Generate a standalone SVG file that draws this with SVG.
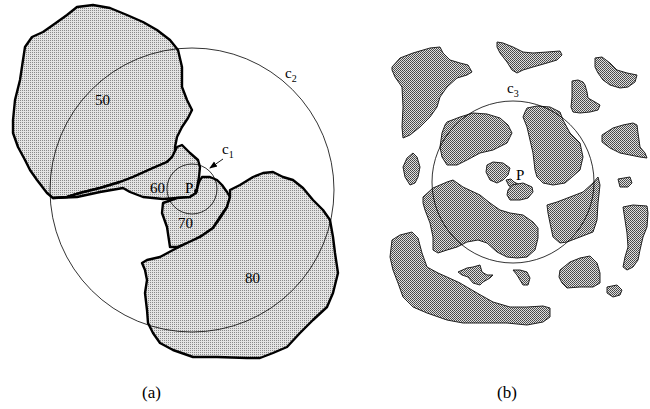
<svg xmlns="http://www.w3.org/2000/svg" width="650" height="409" viewBox="0 0 650 409">
<style>
.ra{fill:url(#stA);stroke:#000;stroke-width:2.4;stroke-linejoin:round}
.rb{fill:url(#stB);stroke:#222;stroke-width:1;stroke-linejoin:round}
.circ{fill:none;stroke:#000;stroke-width:0.8}
.t{font-family:"Liberation Serif","Times New Roman",serif;fill:#000}
.lbl{font-size:15px}
.sub{font-size:10px}
.cap{font-size:17px}
</style>
<defs>
<pattern id="stA" width="2" height="2" patternUnits="userSpaceOnUse">
<rect width="2" height="2" fill="#e4e4e4"/><rect width="1" height="1" fill="#8a8a8a"/>
</pattern>
<pattern id="stB" width="2" height="2" patternUnits="userSpaceOnUse">
<rect width="2" height="2" fill="#e0e0e0"/><rect width="1" height="1" fill="#444"/><rect x="1" y="1" width="1" height="1" fill="#555"/>
</pattern>
<marker id="ah" markerWidth="8" markerHeight="8" refX="7" refY="4" orient="auto" markerUnits="userSpaceOnUse">
<path d="M0,1 L8,4 L0,7 Z" fill="#000"/>
</marker>
</defs>
<rect width="650" height="409" fill="#fff"/>

<g id="panel-a">
<path id="r50" class="ra" d="M25,47 L32,37 L43,32 L53,25 L67,15 L77,7 L93,5 L110,8 L127,15 L143,22 L157,30 L170,40 L178,50 L182,67 L182,87 L187,100 L192,110 L188,118 L182,127 L177,137 L175,147 L175,155 L167,162 L153,168 L133,177 L120,182 L100,188 L80,193 L67,197 L53,198 L47,193 L37,180 L30,170 L25,160 L18,147 L13,133 L13,120 L15,100 L20,80 L23,60 Z"/>
<path id="r60" class="ra" d="M53,198 L67,197 L80,193 L100,188 L120,182 L133,177 L153,168 L167,162 L172,157 L177,147 L182,145 L190,153 L198,160 L200,167 L199,177 L197,188 L196,193 L190,197 L177,198 L163,199 L143,197 L130,192 L123,188 L100,192 L77,197 Z"/>
<path id="r70" class="ra" d="M196,193 L199,182 L202,177 L210,177 L217,180 L222,185 L227,192 L230,197 L227,207 L220,217 L213,228 L203,235 L190,242 L177,247 L170,247 L167,227 L162,213 L163,203 L177,198 L190,197 Z"/>
<path id="r80" class="ra" d="M230,190 L240,185 L253,177 L263,173 L273,172 L283,177 L293,180 L303,188 L313,200 L323,210 L330,220 L333,237 L335,253 L338,273 L333,293 L327,307 L313,320 L300,333 L287,347 L273,353 L260,358 L247,358 L217,357 L193,357 L173,350 L160,343 L153,333 L148,323 L147,310 L145,293 L147,280 L145,270 L142,263 L147,260 L160,257 L173,250 L187,243 L200,237 L213,228 L220,218 L227,207 L230,197 Z"/>
<circle id="c2" class="circ" cx="192" cy="190" r="142"/>
<circle id="c1" class="circ" cx="192" cy="189" r="25"/>
<circle cx="196" cy="191" r="2" fill="#000"/>
<text class="t lbl" x="95" y="105">50</text>
<text class="t lbl" x="150" y="193">60</text>
<text class="t lbl" x="178" y="228">70</text>
<text class="t lbl" x="245" y="283">80</text>
<text class="t lbl" x="185" y="193">P</text>
<text class="t lbl" x="285" y="78">c<tspan class="sub" dy="4">2</tspan></text>
<text class="t lbl" x="222" y="154">c<tspan class="sub" dy="4">1</tspan></text>
<line x1="223" y1="159" x2="210" y2="168" stroke="#000" stroke-width="0.9" marker-end="url(#ah)"/>
<text class="t cap" x="142" y="398">(a)</text>
</g>

<g id="panel-b">
<path class="rb" d="M392,67 L400,58 L413,53 L430,48 L440,47 L443,53 L450,60 L460,63 L468,65 L472,72 L467,75 L457,78 L447,87 L440,97 L437,107 L430,117 L420,127 L410,135 L403,138 L402,127 L403,107 L402,87 L395,77 L392,70 Z"/>
<path class="rb" d="M497,42 L503,43 L513,47 L523,52 L533,53 L547,52 L560,51 L562,55 L557,60 L547,63 L533,67 L523,70 L517,73 L512,70 L507,62 L500,53 L497,47 Z"/>
<path class="rb" d="M595,58 L602,57 L610,63 L617,70 L627,73 L637,75 L635,82 L628,87 L620,88 L610,85 L603,80 L598,73 L595,67 Z"/>
<path class="rb" d="M572,81 L578,80 L583,82 L585,85 L587,92 L588,98 L595,102 L600,105 L598,110 L590,112 L580,113 L573,112 L571,107 L572,97 L572,87 Z"/>
<path class="rb" d="M447,122 L460,117 L473,113 L487,114 L500,118 L508,125 L512,133 L507,143 L493,150 L480,153 L467,160 L457,165 L447,165 L442,157 L440,147 L442,133 L445,125 Z"/>
<path class="rb" d="M525,112 L527,108 L537,106 L550,107 L560,112 L563,120 L570,133 L580,143 L583,157 L580,170 L572,177 L565,183 L553,185 L543,183 L537,177 L535,170 L533,153 L530,140 L527,127 L523,117 Z"/>
<path class="rb" d="M413,153 L417,157 L420,167 L418,177 L415,183 L410,185 L405,177 L403,167 L407,158 Z"/>
<path class="rb" d="M602,135 L613,128 L623,125 L633,123 L637,125 L638,133 L640,147 L645,153 L647,158 L640,157 L630,155 L620,153 L610,148 L602,142 Z"/>
<path class="rb" d="M618,179 L630,177 L632,183 L628,187 L620,187 Z"/>
<path class="rb" d="M487,165 L493,162 L503,163 L510,168 L508,175 L503,180 L497,183 L490,180 L486,172 Z"/>
<path class="rb" d="M506,180 L511,179 L514,182 L518,184 L514,187 L509,186 Z"/>
<path class="rb" d="M512,185 L523,183 L532,187 L533,192 L528,198 L520,200 L510,200 L507,195 L508,190 Z"/>
<path class="rb" d="M423,197 L433,188 L447,182 L453,180 L463,187 L480,195 L490,203 L500,210 L510,213 L523,215 L533,222 L538,228 L538,238 L535,250 L527,257 L517,258 L507,257 L497,252 L487,243 L478,240 L467,242 L457,247 L447,250 L438,253 L433,250 L433,237 L430,223 L425,210 L423,203 Z"/>
<path class="rb" d="M547,205 L557,202 L570,197 L583,192 L593,183 L598,177 L600,185 L598,203 L597,220 L593,232 L580,237 L567,242 L560,243 L553,237 L550,223 L548,213 Z"/>
<path class="rb" d="M623,207 L633,205 L647,206 L648,213 L647,227 L643,237 L640,250 L638,260 L633,267 L627,270 L623,267 L625,257 L628,247 L627,233 L625,220 Z"/>
<path class="rb" d="M392,240 L400,235 L412,232 L418,238 L422,253 L427,267 L438,273 L447,277 L460,283 L477,293 L493,302 L510,307 L527,307 L543,306 L550,308 L550,317 L543,322 L527,325 L507,323 L480,323 L463,323 L447,320 L427,313 L413,307 L403,297 L398,283 L393,270 L390,257 Z"/>
<path class="rb" d="M458,272 L467,268 L473,267 L480,265 L482,272 L487,275 L493,275 L490,278 L483,282 L480,285 L473,283 L468,277 L462,275 Z"/>
<path class="rb" d="M513,270 L520,270 L527,272 L530,278 L528,285 L523,285 L520,280 L517,275 Z"/>
<path class="rb" d="M560,270 L570,262 L580,258 L590,256 L597,263 L600,273 L600,283 L593,287 L580,287 L567,288 L562,283 L559,277 Z"/>
<path class="rb" d="M607,287 L617,285 L622,290 L620,295 L613,297 L607,293 Z"/>
<circle id="c3" class="circ" cx="513" cy="182" r="81"/>
<text class="t lbl" x="507" y="93">c<tspan class="sub" dy="4">3</tspan></text>
<text class="t lbl" x="516" y="180">P</text>
<text class="t cap" x="497" y="398">(b)</text>
</g>
</svg>
